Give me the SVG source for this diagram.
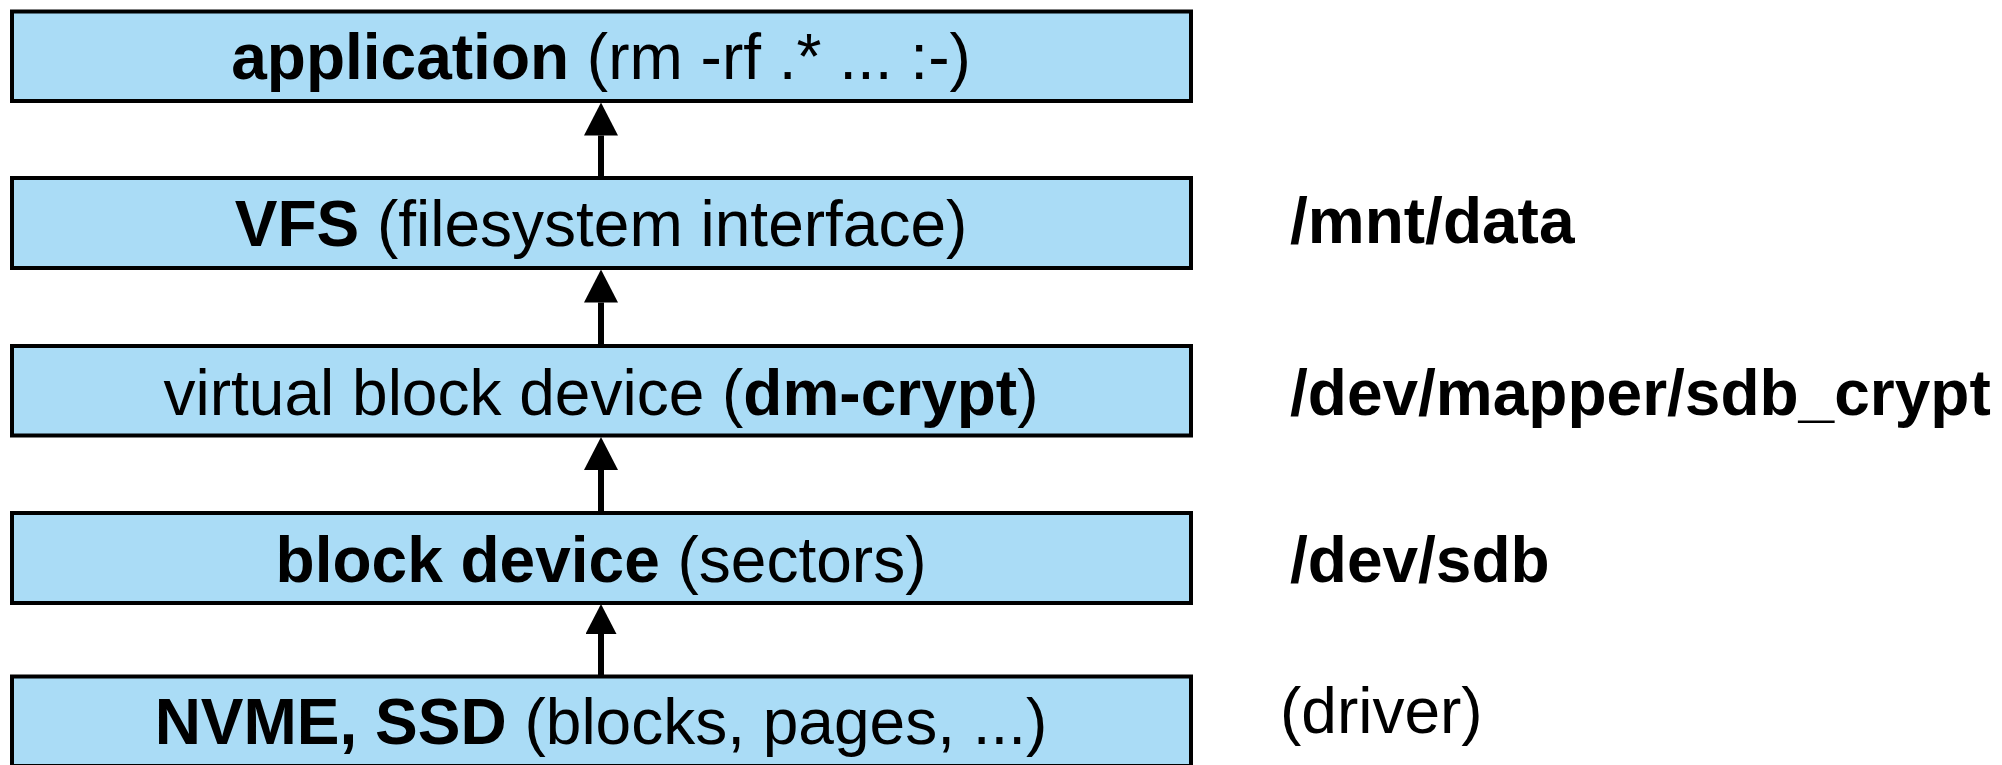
<svg xmlns="http://www.w3.org/2000/svg" width="2002" height="765" viewBox="0 0 2002 765">
  <style>
    .layer { fill: #aadcf6; stroke: #000; stroke-width: 4; }
    .lbl { font-family: "Liberation Sans", Arial, sans-serif; font-size: 64px; fill: #000; }
    .mid { text-anchor: middle; }
    .b { font-weight: bold; }
    .link { stroke: #000; stroke-width: 6; fill: none; }
  </style>
  <defs>
    <marker id="head" viewBox="0 0 33 34" refX="0" refY="17" markerWidth="33" markerHeight="34" markerUnits="userSpaceOnUse" orient="auto">
      <path d="M0,0 L33,17 L0,34 Z" fill="#000"/>
    </marker>
    <marker id="head-sm" viewBox="0 0 30 31" refX="0" refY="15.5" markerWidth="30" markerHeight="31" markerUnits="userSpaceOnUse" orient="auto">
      <path d="M0,0 L30,15.5 L0,31 Z" fill="#000"/>
    </marker>
  </defs>

  <!-- storage stack layers -->
  <g id="application">
    <rect class="layer" x="12" y="11.5" width="1179" height="89.5"/>
    <text class="lbl mid" x="601" y="78.5"><tspan class="b">application</tspan> (rm -rf .* ... :-)</text>
  </g>
  <g id="vfs">
    <rect class="layer" x="12" y="178" width="1179" height="90"/>
    <text class="lbl mid" x="601" y="246"><tspan class="b">VFS</tspan> (filesystem interface)</text>
  </g>
  <g id="dm-crypt">
    <rect class="layer" x="12" y="346" width="1179" height="89.5"/>
    <text class="lbl mid" x="601" y="414.5">virtual block device (<tspan class="b">dm-crypt</tspan>)</text>
  </g>
  <g id="block-device">
    <rect class="layer" x="12" y="513" width="1179" height="90"/>
    <text class="lbl mid" x="601" y="582"><tspan class="b">block device</tspan> (sectors)</text>
  </g>
  <g id="hardware">
    <rect class="layer" x="12" y="676.5" width="1179" height="89.5"/>
    <text class="lbl mid" x="601" y="743.5"><tspan class="b">NVME, SSD</tspan> (blocks, pages, ...)</text>
  </g>

  <!-- device paths beside each layer -->
  <g id="path-labels">
    <text class="lbl b" x="1290" y="243">/mnt/data</text>
    <text class="lbl b" x="1290" y="415">/dev/mapper/sdb_crypt</text>
    <text class="lbl b" x="1290" y="582">/dev/sdb</text>
    <text class="lbl" x="1280" y="733">(driver)</text>
  </g>

  <!-- upward data flow between layers -->
  <g id="connectors">
    <line class="link" x1="601" y1="178" x2="601" y2="135.5" marker-end="url(#head)"/>
    <line class="link" x1="601" y1="346" x2="601" y2="302.5" marker-end="url(#head)"/>
    <line class="link" x1="601" y1="513" x2="601" y2="470" marker-end="url(#head)"/>
    <line class="link" x1="601" y1="676.5" x2="601" y2="634" marker-end="url(#head-sm)"/>
  </g>
</svg>
